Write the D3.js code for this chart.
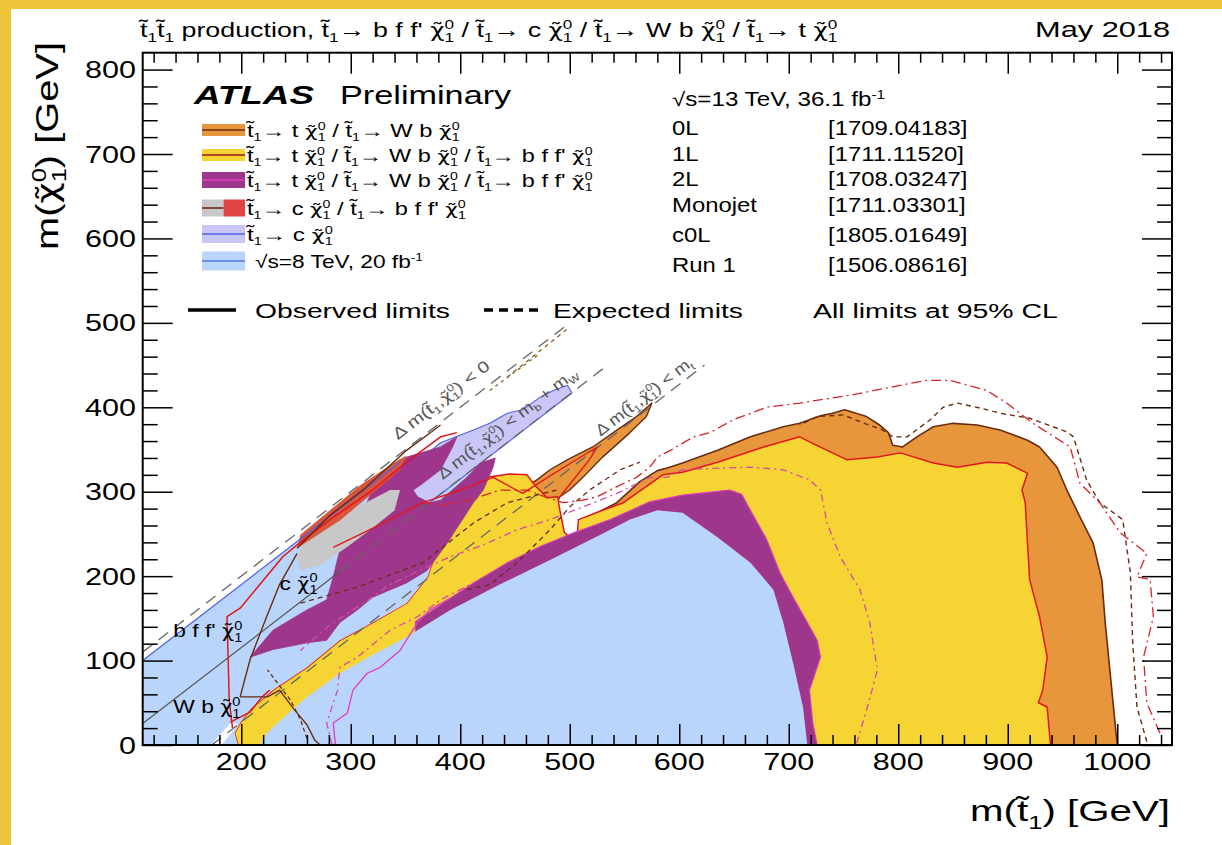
<!DOCTYPE html>
<html>
<head>
<meta charset="utf-8">
<script src="https://cdn.jsdelivr.net/npm/d3@7"></script>
<style>
  html, body { margin: 0; padding: 0; background: #fff; }
  svg { display: block; font-family: "Liberation Sans", Arial, Helvetica, sans-serif; }
</style>
</head>
<body>
<svg id="chart" width="1222" height="845"></svg>
<script>
// ---------------- axis ranges and ticks (GeV) ----------------
const xDomain = [110, 1050];
const yDomain = [0, 820];
const xMajorTicks = [200, 300, 400, 500, 600, 700, 800, 900, 1000];
const yMajorTicks = [0, 100, 200, 300, 400, 500, 600, 700, 800];

// ---------------- excluded regions, [m(stop), m(neutralino)] in GeV ----------------
// 0L (t -> t chi / W b chi), main region
const region0L = [[1000,0],[998,26],[989,145],[986,195],[978,239],[966,270],[954,302],[945,329],[929,353],[918,361],
  [893,373],[872,379],[850,381],[832,377],[817,365],[804,353],[795,355],[791,370],[783,379],[771,389],[751,397],
  [740,393],[729,390],[710,381],[695,377],[665,365],[635,349],[603,334],[589,328],[580,325],[564,312],[543,287],
  [528,277],[511,267],[511,219],[802,53],[929,0]];
// 0L, strip along the top-mass line
const region0LStrip = [[575,405],[561,389],[543,373],[521,353],[498,338],[482,326],[470,314],[461,306],[457,298],
  [468,284],[487,284],[491,294],[500,302],[512,317],[530,341],[555,370],[570,389]];
// 1L
const region1L = [[197,0],[194,14],[199,26],[208,42],[229,65],[260,92],[290,124],[320,145],[351,168],[370,199],
  [382,243],[400,287],[424,317],[445,321],[461,320],[468,308],[479,293],[489,294],[491,278],[495,252],[500,246],
  [507,252],[508,267],[530,278],[549,287],[561,298],[585,320],[603,323],[635,335],[677,353],[710,365],[719,359],
  [735,349],[753,338],[781,341],[802,346],[832,334],[854,329],[881,335],[899,334],[918,322],[913,302],[916,287],
  [918,239],[920,196],[929,152],[936,104],[932,65],[928,50],[936,45],[939,0]];
// 2L, high-mass band
const region2L = [[359,146],[391,174],[412,192],[443,216],[473,235],[503,251],[537,267],[573,288],[603,296],
  [646,302],[657,297],[665,278],[680,243],[692,204],[704,175],[717,145],[726,124],[729,104],[719,65],[722,26],
  [726,0],[528,0],[359,101]];
// 2L, compressed band
const region2LDiag = [[208,104],[229,136],[260,160],[278,172],[284,199],[290,231],[306,263],[320,302],[336,326],
  [351,341],[382,353],[397,365],[393,353],[382,326],[366,310],[357,302],[361,294],[372,287],[382,290],[406,317],
  [418,334],[432,340],[430,329],[421,302],[412,287],[400,263],[388,239],[370,207],[351,192],[320,175],[306,160],
  [290,145],[278,124],[260,121],[229,113]];
// Run 1 (8 TeV)
const regionRun1 = [[217,0],[222,12],[232,25],[260,57],[290,85],[320,107],[351,128],[366,140],[391,160],[436,190],
  [482,219],[528,249],[555,267],[580,278],[603,275],[635,246],[665,216],[686,184],[695,145],[704,97],[713,45],[717,0]];
const regionRun1Diag = [[110,0],[110,100],[350,340],[424,317],[400,287],[382,243],[370,199],[351,168],[320,145],
  [290,124],[260,92],[229,65],[208,42],[199,26],[194,14],[197,0]];
const allowedGap = [[172,0],[182,0],[197,24],[191,27]];
// Monojet (t -> c chi)
const regionMonojet = [[342,300],[351,323],[366,341],[382,358],[412,373],[427,381],[443,393],[457,397],[473,412],
  [485,420],[498,426],[502,417],[460,375],[420,335],[380,295],[350,265]];
// c0L
const regionC0Lc = [[251,223],[258,243],[281,264],[309,284],[336,302],[345,302],[340,278],[318,255],[295,233],[272,213],[254,207]];
const regionC0Lbff = [[251,233],[263,243],[290,266],[318,296],[345,326],[351,343],[340,335],[309,308],[281,278],[254,249]];

// ---------------- limit contours ----------------
const exp0L = [[1027,4],[1018,45],[1014,124],[1012,204],[1005,267],[984,287],[972,314],[960,365],[954,371],[920,387],
  [893,393],[875,399],[854,405],[841,400],[829,385],[808,365],[795,365],[786,373],[765,383],[750,391],[726,389],[710,379]];
const exp1L = [[1039,14],[1027,50],[1024,104],[1033,152],[1030,196],[1018,199],[1027,227],[1003,251],[984,287],[966,310],
  [957,353],[923,381],[899,405],[881,420],[847,432],[826,432],[802,426],[759,415],[710,405],[680,400],[649,385],
  [628,370],[613,365],[592,349],[580,341],[573,329],[561,317],[543,306],[525,294],[512,290],[494,287],[473,296],
  [461,302],[436,302],[409,290],[382,284],[366,287]];
const exp2L = [[762,2],[771,41],[781,89],[774,145],[765,184],[747,223],[735,263],[729,302],[719,314],[695,326],[665,329],
  [635,328],[603,326],[589,317],[573,317],[543,298],[512,282],[482,267],[452,255],[421,237],[391,223],[363,207],
  [336,190],[309,166],[281,142],[254,112]];
const exp2LLow = [[283,0],[278,26],[288,65],[290,92],[306,104],[336,136],[361,152],[382,172],[412,192]];
const exp0LDiagA = [[254,168],[306,187],[366,216],[412,263],[443,287],[488,302]];
const exp0LDiagB = [[406,184],[427,190],[452,216],[482,255],[500,282],[518,302],[546,326],[564,335]];
const exp0LLow = [[260,8],[254,30],[245,53],[231,77],[224,89]];
const expEdgeA = [[443,436],[500,495]];
const expEdgeB = [[427,420],[473,464]];
const obs2LLow = [[286,0],[284,26],[297,38],[302,65],[315,85],[327,92],[345,112],[361,145],[372,160],[391,174]];
const obsRedA = [[192,20],[189,53],[188,104],[187,152],[199,162],[238,223],[251,237],[281,267],[318,300],[351,335],[382,365],[397,370]];
const obsRedB = [[190,27],[208,39],[219,57],[226,65]];
const obsRedC = [[284,234],[327,261],[366,287],[400,302],[430,317],[457,298],[491,326],[525,353],[518,338],[491,294]];
const obsBrownA = [[199,57],[208,101],[222,148],[235,190],[251,227]];
const obsBrownB = [[199,57],[224,57],[235,65],[249,41],[260,24],[267,6],[272,0]];
const obsBrownC = [[251,233],[281,272],[313,304],[351,349],[382,379]];
const run1Line = [[110,100],[345,335]];

// kinematic boundaries: m(chi) = m(stop) - offset
const kinOffsets = [0, 84.6, 173];
const kinRanges = [[110, 500], [290, 535], [173, 623]];

// ---------------- text ----------------
const titleText = "t~_1t~_1 production, t~_1→ b f f' χ~^0_1 / t~_1→ c χ~^0_1 / t~_1→ W b χ~^0_1 / t~_1→ t χ~^0_1";
const legendLabels = [
  "t~_1→ t χ~^0_1 / t~_1→ W b χ~^0_1",
  "t~_1→ t χ~^0_1 / t~_1→ W b χ~^0_1 / t~_1→ b f f' χ~^0_1",
  "t~_1→ t χ~^0_1 / t~_1→ W b χ~^0_1 / t~_1→ b f f' χ~^0_1",
  "t~_1→ c χ~^0_1 / t~_1→ b f f' χ~^0_1",
  "t~_1→ c χ~^0_1",
  "√s=8 TeV, 20 fb^{-1}"
];
const analyses = ["0L", "1L", "2L", "Monojet", "c0L", "Run 1"];
const references = ["[1709.04183]", "[1711.11520]", "[1708.03247]", "[1711.03301]", "[1805.01649]", "[1506.08616]"];

// ---------------- drawing ----------------
const svg = d3.select("#chart");
svg.append("rect").attr("x", 0).attr("y", 0).attr("width", 1222).attr("height", 845).attr("fill", "#fff");
svg.append("rect").attr("x", 0).attr("y", 0).attr("width", 1222).attr("height", 9).attr("fill", "#efc63a");
svg.append("rect").attr("x", 0).attr("y", 0).attr("width", 11).attr("height", 845).attr("fill", "#efc63a");

const x = d3.scaleLinear().domain(xDomain).range([142.7, 1172]);
const y = d3.scaleLinear().domain(yDomain).range([745, 52.7]);
const line = d3.line().x(d => x(d[0])).y(d => y(d[1]));
const area = pts => line(pts) + "Z";

svg.append("clipPath").attr("id", "plotclip").append("rect")
  .attr("x", x(xDomain[0])).attr("y", y(yDomain[1]))
  .attr("width", x(xDomain[1]) - x(xDomain[0])).attr("height", y(yDomain[0]) - y(yDomain[1]));
const plot = svg.append("g").attr("clip-path", "url(#plotclip)");

const C = {
  orange: "#e8963b", yellow: "#f5d433", purple: "#9e368c", lightblue: "#bad5fb",
  lavender: "#c9c7f7", grey: "#c8c8c8", red: "#e04444", brown: "#6a2c10",
  obsRed: "#e3161d", magenta: "#e03cc0", pink: "#d64aa8", blue: "#4f5fe6", kin: "#666"
};

function fillRegion(pts, fill, stroke, sw) {
  plot.append("path").attr("d", area(pts)).attr("fill", fill)
    .attr("stroke", stroke || "none").attr("stroke-width", sw || 0).attr("stroke-linejoin", "round");
}
function drawLine(pts, color, width, dash) {
  plot.append("path").attr("d", line(pts)).attr("fill", "none").attr("stroke", color)
    .attr("stroke-width", width).attr("stroke-dasharray", dash || null).attr("stroke-linejoin", "round");
}

fillRegion(region0L, C.orange, C.brown, 1.6);
fillRegion(region0LStrip, C.orange, C.brown, 1.4);
fillRegion(region1L, C.yellow, C.obsRed, 1.5);
fillRegion(region2L, C.purple, C.magenta, 1.1);
fillRegion(regionRun1, C.lightblue);
fillRegion(regionRun1Diag, C.lightblue);
fillRegion(allowedGap, "#ffffff");
fillRegion(regionMonojet, C.lavender, C.blue, 1.1);
fillRegion(region2LDiag, C.purple, C.purple, 0.8);
fillRegion(regionC0Lc, C.grey);
fillRegion(regionC0Lbff, "#d9553c");

// kinematic limit lines
kinOffsets.forEach((off, i) => {
  const [a, b] = kinRanges[i];
  drawLine([[a, a - off], [b, b - off]], C.kin, 1.3, "12,8");
});
drawLine([[110, 110 - kinOffsets[1]], [kinRanges[1][0], kinRanges[1][0] - kinOffsets[1]]], "#555", 1.2);
drawLine(run1Line, C.blue, 1.3);

// expected limits
drawLine(exp0L, C.brown, 1.4, "5,4");
drawLine(exp1L, "#d8232a", 1.3, "10,4,2,4");
drawLine(exp2L, C.pink, 1.3, "7,4,2,4");
drawLine(exp2LLow, C.pink, 1.3, "7,4,2,4");
drawLine(exp0LDiagA, C.brown, 1.3, "5,4");
drawLine(exp0LDiagB, C.brown, 1.3, "5,4");
drawLine(exp0LLow, C.brown, 1.3, "4,3");
drawLine(expEdgeA, "#8a5a20", 1.3, "4,4");
drawLine(expEdgeB, "#8a5a20", 1.3, "3,4");
// observed limits
drawLine(obs2LLow, C.magenta, 1.3);
drawLine(obsRedA, C.obsRed, 1.5);
drawLine(obsRedB, C.obsRed, 1.5);
drawLine(obsRedC, C.obsRed, 1.4);
drawLine(obsBrownA, C.brown, 1.4);
drawLine(obsBrownB, C.brown, 1.4);
drawLine(obsBrownC, C.brown, 1.4);

// ---------------- axes (ticks inside the frame) ----------------
const xMinorTicks = d3.range(120, 1050, 20).filter(v => v % 100 !== 0);
const yMinorTicks = d3.range(20, 820, 20).filter(v => v % 100 !== 0);
function ticks(gen, tr, vals, size) {
  const g = svg.append("g").attr("transform", tr)
    .call(gen.tickValues(vals).tickSize(-size).tickFormat(""));
  g.select(".domain").remove();
  g.selectAll("line").attr("stroke", "#000").attr("stroke-width", 1.5);
}
ticks(d3.axisBottom(x), `translate(0,${y(0)})`, xMajorTicks, 21);
ticks(d3.axisBottom(x), `translate(0,${y(0)})`, xMinorTicks, 10);
ticks(d3.axisTop(x), `translate(0,${y(820)})`, xMajorTicks, 21);
ticks(d3.axisTop(x), `translate(0,${y(820)})`, xMinorTicks, 10);
ticks(d3.axisLeft(y), `translate(${x(110)},0)`, yMajorTicks, 30);
ticks(d3.axisLeft(y), `translate(${x(110)},0)`, yMinorTicks, 15);
ticks(d3.axisRight(y), `translate(${x(1050)},0)`, yMajorTicks, 30);
ticks(d3.axisRight(y), `translate(${x(1050)},0)`, yMinorTicks, 15);
svg.append("rect").attr("x", x(110)).attr("y", y(820)).attr("width", x(1050) - x(110)).attr("height", y(0) - y(820))
  .attr("fill", "none").attr("stroke", "#000").attr("stroke-width", 2);

// ---------------- text helpers ----------------
// "~" adds a combining tilde to the previous glyph, "^x" / "_x" raise / lower, "^a_b" stacks them
function renderTex(t, str, fs, small) {
  small = small || 0.64;
  const parts = [];
  let buf = "", justSup = false;
  for (let i = 0; i < str.length; i++) {
    const c = str[i];
    if (c === "~") {
      const base = buf.slice(-1);
      buf = buf.slice(0, -1);
      if (buf) parts.push([buf, "n"]);
      buf = "";
      parts.push([base + "\u0303", "acc", base]);
      justSup = false;
      continue;
    }
    if (c === "^" || c === "_") {
      if (buf) { parts.push([buf, "n"]); buf = ""; justSup = false; }
      let g;
      if (str[i + 1] === "{") { const j = str.indexOf("}", i); g = str.slice(i + 2, j); i = j; }
      else { g = str[i + 1]; i++; }
      let kind = c === "^" ? "sup" : "sub";
      let back = 0;
      if (kind === "sub" && justSup) { kind = "stk"; back = parts[parts.length - 1][0].length; }
      parts.push([g, kind, back]);
      justSup = kind === "sup";
      continue;
    }
    buf += c;
  }
  if (buf) parts.push([buf, "n"]);
  let shift = 0;
  parts.forEach(p => {
    const [s, k] = p;
    const sp = t.append("tspan").text(s);
    let target = 0, size = fs, dx = 0;
    if (k === "acc" && p[2] === "χ") sp.attr("font-family", "DejaVu Sans").attr("font-size", 0.92 * fs);
    if (k === "sup") { target = -0.38 * fs; size = small * fs; }
    if (k === "sub" || k === "stk") { target = 0.25 * fs; size = small * fs; }
    if (k === "stk") dx = -p[2] * 0.556 * small * fs;
    if (k !== "acc" || p[2] !== "χ") sp.attr("font-size", size);
    if (dx) sp.attr("dx", dx);
    if (target !== shift) sp.attr("dy", target - shift);
    shift = target;
  });
}
function label(g, str, o) {
  const t = g.append("text").attr("font-size", o.fs).attr("text-anchor", o.anchor || "start")
    .attr("fill", o.fill || "#000");
  if (o.weight) t.attr("font-weight", o.weight);
  if (o.italic) t.attr("font-style", "italic");
  renderTex(t, str, o.fs, o.small);
  let s = o.sx || 1.26;
  if (o.w) s = o.w / t.node().getBBox().width;
  t.attr("transform", `translate(${o.x},${o.y}) rotate(${o.rot || 0}) scale(${s},1)`);
  return t;
}

// tick labels
xMajorTicks.forEach(v => label(svg, String(v), { x: x(v), y: 770, fs: 23.5, anchor: "middle", sx: 1.3 }));
yMajorTicks.forEach(v => label(svg, String(v), { x: 136, y: y(v) + 8.5, fs: 23.5, anchor: "end", sx: 1.3 }));

// axis titles
label(svg, "m(t~_1) [GeV]", { x: 1170, y: 821, fs: 30, anchor: "end", w: 200 });
label(svg, "m(χ~^0_1) [GeV]", { x: 58, y: 42, fs: 32, anchor: "end", rot: -90, w: 208 });

// header
label(svg, titleText, { x: 140, y: 37, fs: 21, w: 700 });
label(svg, "May 2018", { x: 1170, y: 37, fs: 22, anchor: "end", w: 135 });

// ATLAS label
label(svg, "ATLAS", { x: 194, y: 104, fs: 25, weight: "bold", italic: true, w: 122 });
label(svg, "Preliminary", { x: 340, y: 104, fs: 25, w: 172 });

// region legend
const boxFill = [[C.orange], [C.yellow], [C.purple], [C.grey, C.red], [C.lavender], [C.lightblue]];
const boxLine = [C.brown, "#a0141a", C.magenta, C.brown, C.blue, "#4d7be6"];
const boxCenters = [130, 155, 180, 208, 234, 261];
const boxHeights = [12, 12, 16, 17, 18, 19];
const labelWidths = [215, 348, 348, 221, 88, 168];
const leg = svg.append("g");
legendLabels.forEach((txt, i) => {
  const cy = boxCenters[i], h = boxHeights[i];
  const fills = boxFill[i];
  fills.forEach((f, j) => {
    const w = 43 / fills.length;
    leg.append("rect").attr("x", 202 + j * w).attr("y", cy - h / 2).attr("width", w).attr("height", h).attr("fill", f);
  });
  leg.append("line").attr("x1", 202).attr("x2", fills.length > 1 ? 223.5 : 245).attr("y1", cy).attr("y2", cy)
    .attr("stroke", boxLine[i]).attr("stroke-width", 1.6);
  label(leg, txt, { x: i === 5 ? 255 : 247, y: cy + 6.5, fs: 18, small: 0.6, w: labelWidths[i] });
});

// analysis list
const rowCenters = [127, 153, 178, 204, 234, 264];
label(svg, "√s=13 TeV, 36.1 fb^{-1}", { x: 672, y: 106, fs: 19.5, sx: 1.24 });
analyses.forEach((a, i) => {
  label(svg, a, { x: 672, y: rowCenters[i] + 7.5, fs: 19.5, sx: 1.225 });
  label(svg, references[i], { x: 828, y: rowCenters[i] + 7.5, fs: 19.5, sx: 1.225 });
});

// observed / expected key
svg.append("line").attr("x1", 188).attr("x2", 236).attr("y1", 310).attr("y2", 310).attr("stroke", "#000").attr("stroke-width", 3.5);
svg.append("line").attr("x1", 484).attr("x2", 540).attr("y1", 310).attr("y2", 310).attr("stroke", "#000").attr("stroke-width", 3.5)
  .attr("stroke-dasharray", "9,6");
label(svg, "Observed limits", { x: 255, y: 318, fs: 21, w: 195 });
label(svg, "Expected limits", { x: 553, y: 318, fs: 21, w: 190 });
label(svg, "All limits at 95% CL", { x: 813, y: 318, fs: 21, w: 245 });

// in-plot annotations (anchored in data coordinates)
const ann = svg.append("g");
label(ann, "b f f' χ~^0_1", { x: x(138), y: y(128), fs: 19, sx: 1.2 });
label(ann, "W b χ~^0_1", { x: x(138), y: y(38), fs: 19, sx: 1.2 });
label(ann, "c χ~^0_1", { x: x(235), y: y(184), fs: 19, sx: 1.2 });
const kinAngle = -Math.atan((y(0) - y(100)) / (x(200) - x(100))) * 180 / Math.PI;
label(ann, "Δ m(t~_1,χ~^0_1) < 0", { x: x(343), y: y(361), fs: 16, fill: "#555", rot: kinAngle, w: 118 });
label(ann, "Δ m(t~_1,χ~^0_1) < m_b + m_W", { x: x(384), y: y(314), fs: 16, fill: "#555", rot: kinAngle, w: 172 });
label(ann, "Δ m(t~_1,χ~^0_1) < m_t", { x: x(528), y: y(365), fs: 16, fill: "#555", rot: kinAngle, w: 118 });
</script>
</body>
</html>
